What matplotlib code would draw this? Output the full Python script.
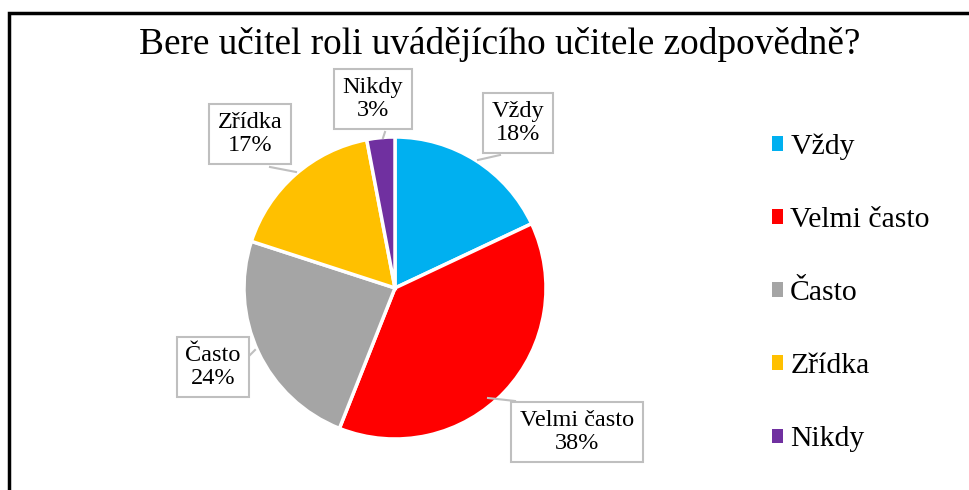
import matplotlib.pyplot as plt
from matplotlib.patches import Rectangle, Patch

title = "Bere učitel roli uvádějícího učitele zodpovědně?"
labels = ["Vždy", "Velmi často", "Často", "Zřídka", "Nikdy"]
values = [18, 38, 24, 17, 3]
colors = ["#00B0F0", "#FF0000", "#A5A5A5", "#FFC000", "#7030A0"]

# label box centres and leader end points in pixels (y from top)
label_pos = [(518, 123), (577, 432), (213, 367), (250, 134), (373, 99)]
leader_from = [(500, 155), (515, 401), (250, 355), (270, 167), (385, 132)]
leader_to = [(478, 160), (488, 398), (255, 350), (296, 172), (383, 138)]

plt.rcParams["font.family"] = ["Liberation Serif", "DejaVu Serif"]

W, H = 970, 490
fig = plt.figure(figsize=(W / 100, H / 100), dpi=100)
ax = fig.add_axes([0, 0, 1, 1])
ax.set_xlim(0, W)
ax.set_ylim(0, H)
ax.set_aspect("equal")
ax.axis("off")


def py(y):
    return H - y


# frame (left and top edges visible)
ax.add_patch(Rectangle((9, -20), W + 40, py(13) + 20, fill=False,
                       edgecolor="black", linewidth=2.5))

ax.text(500, py(45), title, ha="center", va="center", fontsize=26.8)

wedges, _ = ax.pie(values, colors=colors, center=(395, py(288)), radius=151,
                   startangle=90, counterclock=False, frame=True,
                   wedgeprops=dict(edgecolor="white", linewidth=2.5))
ax.set_xlim(0, W)
ax.set_ylim(0, H)
ax.axis("off")

for lab, val, (lx, ly), (fx, fy), (tx, ty) in zip(labels, values, label_pos,
                                                 leader_from, leader_to):
    ax.plot([fx, tx], [py(fy), py(ty)], color="#BFBFBF", linewidth=1.5,
            zorder=3)
    ax.text(lx, py(ly), f"{lab}\n{val}%", ha="center", va="center",
            fontsize=17.5, linespacing=1.1, zorder=4,
            bbox=dict(boxstyle="square,pad=0.35", facecolor="white",
                      edgecolor="#BFBFBF", linewidth=1.5))

handles = [Patch(facecolor=c, edgecolor="none") for c in colors]
fig.legend(handles, labels, loc="center left", bbox_to_anchor=(745 / W, 1 - 293 / H),
           frameon=False, fontsize=21.4, handlelength=0.37, handleheight=0.37,
           handletextpad=0.25, labelspacing=1.585)

fig.savefig("out.png", dpi=100)
